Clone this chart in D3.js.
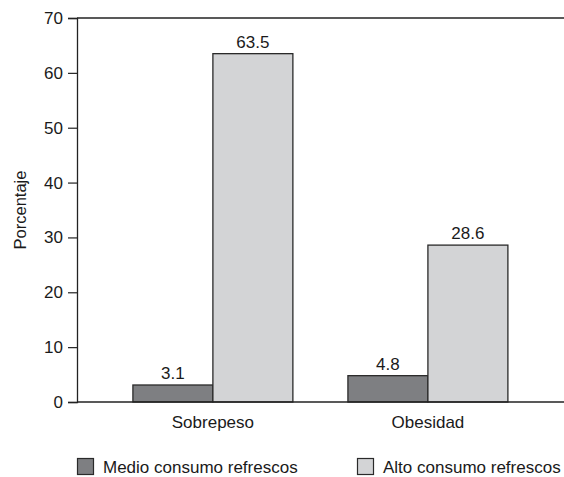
<!DOCTYPE html>
<html>
<head>
<meta charset="utf-8">
<script src="https://cdn.jsdelivr.net/npm/d3@7"></script>
<style>
  html, body { margin: 0; padding: 0; background: #fff; }
  svg { display: block; font-family: "Liberation Sans", Arial, sans-serif; }
</style>
</head>
<body>
<svg id="chart" width="564" height="477"></svg>
<script>
// Prevalence by soft-drink consumption level
const categories = ["Sobrepeso", "Obesidad"];
const seriesNames = ["Medio consumo refrescos", "Alto consumo refrescos"];
const medioValues = [3.1, 4.8];
const altoValues = [63.5, 28.6];
const yTicks = [0, 10, 20, 30, 40, 50, 60, 70];
const seriesColors = ["#7e7f82", "#d3d4d6"];

const FONT = "Liberation Sans, Arial, sans-serif";
const svg = d3.select("#chart");
const margin = { top: 18, left: 77, right: 0.2, bottom: 75 };
const width = 564, height = 477;
const plotBottom = height - margin.bottom; // 402

const x = d3.scaleBand()
  .domain(categories)
  .range([margin.left, width - margin.right])
  .paddingInner(0.256)
  .paddingOuter(0.26);

const xs = d3.scaleBand()
  .domain(seriesNames)
  .range([0, x.bandwidth()])
  .padding(0);

const y = d3.scaleLinear()
  .domain([0, 70])
  .range([plotBottom, margin.top]);

const rows = categories.map((c, i) => ({
  category: c,
  values: [
    { series: seriesNames[0], value: medioValues[i], color: seriesColors[0] },
    { series: seriesNames[1], value: altoValues[i], color: seriesColors[1] }
  ]
}));

// top frame line
svg.append("line")
  .attr("x1", margin.left).attr("x2", width)
  .attr("y1", y(70)).attr("y2", y(70))
  .attr("stroke", "#222").attr("stroke-width", 1.3);

// bars
const groups = svg.append("g").selectAll("g")
  .data(rows).join("g")
  .attr("transform", d => `translate(${x(d.category)},0)`);

groups.selectAll("rect")
  .data(d => d.values).join("rect")
  .attr("x", d => xs(d.series))
  .attr("y", d => y(d.value))
  .attr("width", xs.bandwidth())
  .attr("height", d => plotBottom - y(d.value))
  .attr("fill", d => d.color)
  .attr("stroke", "#2a2a2a")
  .attr("stroke-width", 1.3);

groups.selectAll("text.val")
  .data(d => d.values).join("text")
  .attr("class", "val")
  .attr("x", d => xs(d.series) + xs.bandwidth() / 2)
  .attr("y", d => y(d.value) - 6)
  .attr("text-anchor", "middle")
  .attr("font-size", 17)
  .attr("fill", "#1a1a1a")
  .text(d => d.value.toFixed(1));

// y axis
const yAxis = svg.append("g")
  .attr("transform", `translate(${margin.left},0)`)
  .call(d3.axisLeft(y).tickValues(yTicks).tickSize(9).tickPadding(5));
yAxis.select(".domain").attr("stroke", "#222").attr("stroke-width", 1.3);
yAxis.selectAll(".tick line").attr("stroke", "#222").attr("stroke-width", 1.2);
yAxis.selectAll(".tick text")
  .attr("font-size", 17)
  .attr("fill", "#1a1a1a")
  .attr("font-family", FONT);

// x axis baseline
svg.append("line")
  .attr("x1", margin.left).attr("x2", width)
  .attr("y1", plotBottom).attr("y2", plotBottom)
  .attr("stroke", "#222").attr("stroke-width", 1.3);

// category labels
svg.append("g").selectAll("text")
  .data(categories).join("text")
  .attr("x", d => x(d) + x.bandwidth() / 2)
  .attr("y", 428)
  .attr("text-anchor", "middle")
  .attr("font-size", 17)
  .attr("fill", "#1a1a1a")
  .text(d => d);

// y axis title
svg.append("text")
  .attr("transform", `translate(26,${(y(70) + plotBottom) / 2}) rotate(-90)`)
  .attr("text-anchor", "middle")
  .attr("font-size", 16.5)
  .attr("fill", "#1a1a1a")
  .text("Porcentaje");

// legend
const legendX = [77, 357];
const legend = svg.append("g").selectAll("g")
  .data(seriesNames).join("g")
  .attr("transform", (d, i) => `translate(${legendX[i]},458)`);
legend.append("rect")
  .attr("x", 0.5).attr("y", 0.5)
  .attr("width", 16).attr("height", 16)
  .attr("fill", (d, i) => seriesColors[i])
  .attr("stroke", "#2a2a2a").attr("stroke-width", 1.2);
legend.append("text")
  .attr("x", 26).attr("y", 15)
  .attr("font-size", 17)
  .attr("fill", "#1a1a1a")
  .text(d => d);
</script>
</body>
</html>
